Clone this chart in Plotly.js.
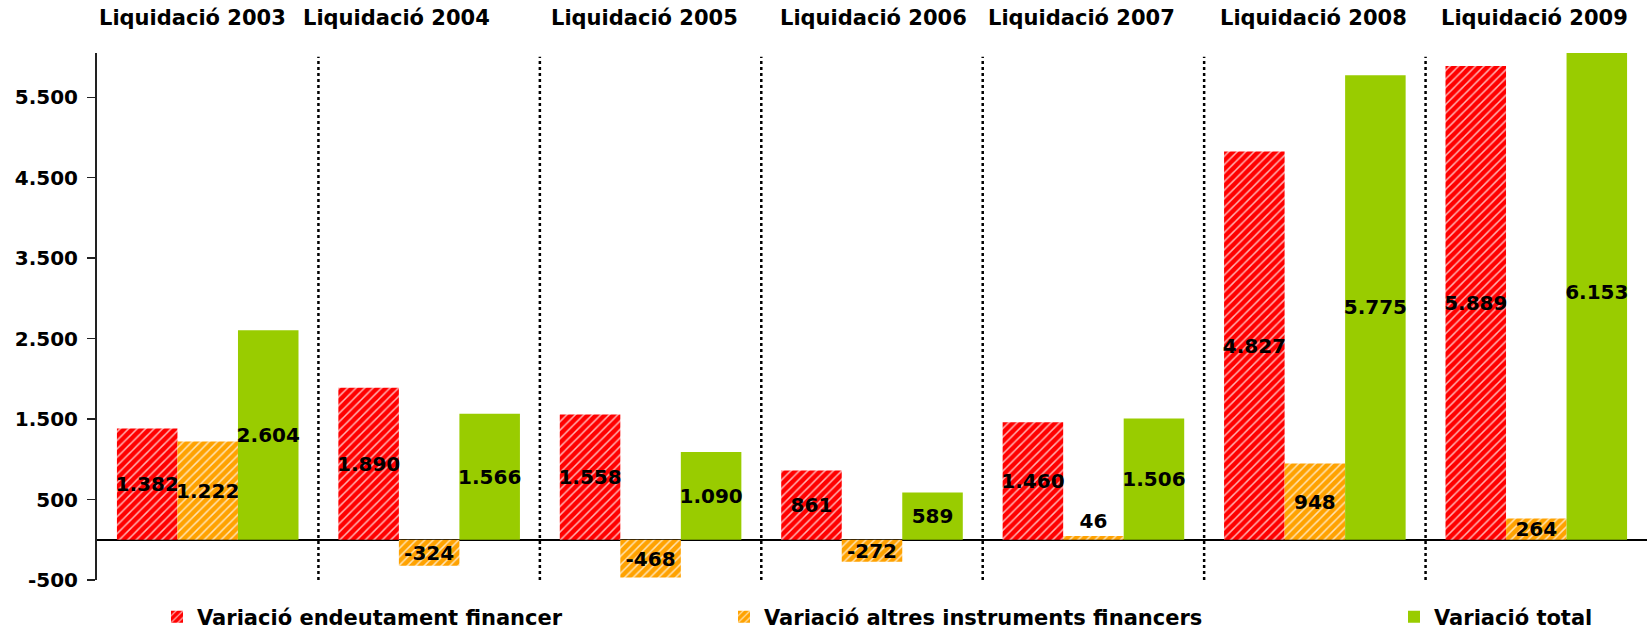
<!DOCTYPE html>
<html>
<head>
<meta charset="utf-8">
<script src="https://cdn.plot.ly/plotly-3.0.1.min.js"></script>
<style>html,body{margin:0;padding:0;background:#fff;}#chart{width:1647px;height:630px;}</style>
</head>
<body>
<div id="chart"></div>
<script>
// ---- data ----
const categories = ["Liquidació 2003", "Liquidació 2004", "Liquidació 2005", "Liquidació 2006", "Liquidació 2007", "Liquidació 2008", "Liquidació 2009"];
const seriesNames = ["Variació endeutament financer", "Variació altres instruments financers", "Variació total"];
const endeutament = [1382, 1890, 1558, 861, 1460, 4827, 5889];
const altres = [1222, -324, -468, -272, 46, 948, 264];
const total = [2604, 1566, 1090, 589, 1506, 5775, 6153];
const yTickVals = [-500, 500, 1500, 2500, 3500, 4500, 5500];
const yTickText = ["-500", "500", "1.500", "2.500", "3.500", "4.500", "5.500"];

// ---- helpers ----
function fmt(v) {
  const s = String(Math.abs(v)).replace(/\B(?=(\d{3})+(?!\d))/g, ".");
  return (v < 0 ? "-" : "") + s;
}
const FONT = "DejaVu Sans";
const labelFont = {family: FONT, size: 20, color: "#000", weight: "bold"};

function barTrace(name, vals, color, pattern, legendId) {
  return {
    type: "bar", name: name, x: categories, y: vals,
    text: vals.map(fmt),
    textposition: vals.map(v => (Math.abs(v) < 100 && v > 0 ? "outside" : "inside")),
    insidetextanchor: "middle", textangle: 0, constraintext: "none",
    textfont: labelFont, insidetextfont: labelFont, outsidetextfont: labelFont,
    cliponaxis: true,
    marker: Object.assign({color: color, line: {width: 0}}, pattern ? {pattern: pattern} : {}),
    legend: legendId, hoverinfo: "skip"
  };
}

const traces = [
  barTrace(seriesNames[0], endeutament, "#FF0000",
    {shape: "/", fgcolor: "#FFFFFF", bgcolor: "#FF0000", fgopacity: 0.7, size: 6, solidity: 0.25, fillmode: "replace"}, "legend"),
  barTrace(seriesNames[1], altres, "#FFA200",
    {shape: "/", fgcolor: "#FFFFFF", bgcolor: "#FFA200", fgopacity: 0.7, size: 6, solidity: 0.25, fillmode: "replace"}, "legend2"),
  barTrace(seriesNames[2], total, "#99CC00", null, "legend3")
];

const titleShift = [-15, -33, -6, 1, -12, -1, -2];
const annotations = categories.map((c, i) => ({
  x: c, xref: "x", y: 1.066, yref: "paper", yanchor: "middle", xanchor: "center",
  xshift: titleShift[i], text: c, showarrow: false,
  font: {family: FONT, size: 21, color: "#000", weight: "bold"}
}));

const shapes = categories.slice(0, -1).map((c, i) => ({
  type: "line", xref: "x", yref: "paper", x0: i + 0.5, x1: i + 0.5, y0: 0, y1: 0.993,
  line: {color: "#000", width: 2.5, dash: "dot"}
}));

const legendFont = {family: FONT, size: 21, color: "#000", weight: "bold"};
function legendAt(xpx) {
  return {orientation: "h", xref: "container", yref: "container", x: xpx / 1647, y: 1 - 617 / 630,
    xanchor: "left", yanchor: "middle", font: legendFont, bgcolor: "rgba(0,0,0,0)", borderwidth: 0};
}

const layout = {
  width: 1647, height: 630,
  margin: {l: 97, r: 0, t: 53, b: 50, pad: 0},
  paper_bgcolor: "#fff", plot_bgcolor: "#fff",
  barmode: "group", bargap: 0.18, bargroupgap: 0,
  showlegend: true,
  legend: legendAt(157), legend2: legendAt(724), legend3: legendAt(1394),
  xaxis: {type: "category", showticklabels: false, showgrid: false, zeroline: false, showline: false, ticks: "", fixedrange: true},
  yaxis: {range: [-500, 6050], tickvals: yTickVals, ticktext: yTickText, showgrid: false,
    zeroline: true, zerolinecolor: "#000", zerolinewidth: 1.5,
    showline: true, linecolor: "#222", linewidth: 2, ticks: "outside", ticklen: 8, tickwidth: 1.5, tickcolor: "#222",
    ticklabelstandoff: 5,
    tickfont: {family: FONT, size: 20, color: "#000", weight: "bold"}, fixedrange: true},
  annotations: annotations,
  shapes: shapes
};

Plotly.newPlot("chart", traces, layout, {displayModeBar: false, staticPlot: true});
</script>
</body>
</html>
